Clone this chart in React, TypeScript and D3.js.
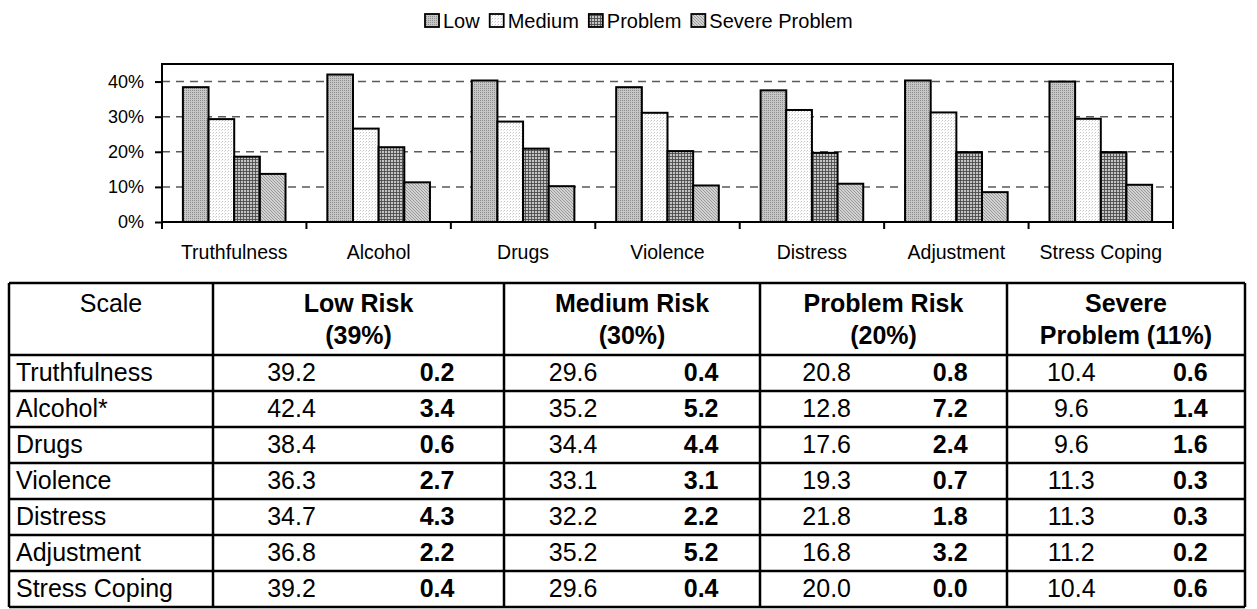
import React, { useRef, useEffect } from 'react';
import * as d3 from 'd3';

// bar chart data (in %)
const categories = ['Truthfulness', 'Alcohol', 'Drugs', 'Violence', 'Distress', 'Adjustment', 'Stress Coping'];
const seriesNames = ['Low', 'Medium', 'Problem', 'Severe Problem'];
const lowBars = [38.4, 42.0, 40.3, 38.4, 37.5, 40.3, 40.0];
const mediumBars = [29.3, 26.6, 28.6, 31.1, 31.9, 31.2, 29.4];
const problemBars = [18.6, 21.3, 20.9, 20.2, 19.7, 19.9, 19.9];
const severeBars = [13.7, 11.3, 10.2, 10.4, 10.9, 8.5, 10.6];
const yTicks = [0, 10, 20, 30, 40];

// table data
const scaleNames = ['Truthfulness', 'Alcohol*', 'Drugs', 'Violence', 'Distress', 'Adjustment', 'Stress Coping'];
const headers = [['Low Risk', '(39%)'], ['Medium Risk', '(30%)'], ['Problem Risk', '(20%)'], ['Severe', 'Problem (11%)']];
const lowVals = [39.2, 42.4, 38.4, 36.3, 34.7, 36.8, 39.2];
const lowDiff = [0.2, 3.4, 0.6, 2.7, 4.3, 2.2, 0.4];
const medVals = [29.6, 35.2, 34.4, 33.1, 32.2, 35.2, 29.6];
const medDiff = [0.4, 5.2, 4.4, 3.1, 2.2, 5.2, 0.4];
const probVals = [20.8, 12.8, 17.6, 19.3, 21.8, 16.8, 20.0];
const probDiff = [0.8, 7.2, 2.4, 0.7, 1.8, 3.2, 0.0];
const sevVals = [10.4, 9.6, 9.6, 11.3, 11.3, 11.2, 10.4];
const sevDiff = [0.6, 1.4, 1.6, 0.3, 0.3, 0.2, 0.6];

const FONT = '"Liberation Sans", Arial, Helvetica, sans-serif';

export default function App() {
  const svgRef = useRef<SVGSVGElement>(null);

  useEffect(() => {
    const svg = d3.select(svgRef.current);
    svg.selectAll('*').remove();
    const width = 1257;
    const height = 609;
    svg.attr('width', width).attr('height', height);

    // fill patterns
    const defs = svg.append('defs');
    const pat = (id: string, size: number, bg: string, px: [number, number, string][]) => {
      const p = defs.append('pattern').attr('id', id).attr('patternUnits', 'userSpaceOnUse')
        .attr('width', size).attr('height', size);
      p.append('rect').attr('width', size).attr('height', size).attr('fill', bg);
      px.forEach(([x, y, c]) => p.append('rect').attr('x', x).attr('y', y).attr('width', 1).attr('height', 1).attr('fill', c));
    };
    pat('p-low', 2, '#c6c6c6', [[0, 0, '#8e8e8e']]);
    pat('p-med', 3, '#ffffff', [[0, 0, '#c4c4c4'], [2, 1, '#e0e0e0']]);
    pat('p-prob', 3, '#c4c4c4', [[0, 0, '#4a4a4a'], [1, 0, '#5a5a5a'], [2, 0, '#5a5a5a'], [0, 1, '#5a5a5a'], [0, 2, '#5a5a5a']]);
    pat('p-sev', 3, '#d2d2d2', [[0, 0, '#9a9a9a'], [1, 1, '#9a9a9a'], [2, 2, '#9a9a9a']]);
    const fills = ['url(#p-low)', 'url(#p-med)', 'url(#p-prob)', 'url(#p-sev)'];
    const series = [lowBars, mediumBars, problemBars, severeBars];

    // ---- chart ----
    const m = { left: 162, right: 1173, top: 64, bottom: 222 };
    const x0 = d3.scaleBand<string>().domain(categories).range([m.left, m.right]).paddingInner(0).paddingOuter(0);
    const x1 = d3.scaleBand<string>().domain(seriesNames).range([0, x0.bandwidth()]).paddingInner(0).paddingOuter(0.815);
    const y = d3.scaleLinear().domain([0, 45]).range([m.bottom, m.top]);

    const g = svg.append('g');

    // dashed gridlines
    g.selectAll('.grid')
      .data(yTicks.filter(t => t > 0))
      .join('line')
      .attr('x1', m.left).attr('x2', m.right)
      .attr('y1', d => y(d)).attr('y2', d => y(d))
      .attr('stroke', '#5a5a5a').attr('stroke-width', 1.5).attr('stroke-dasharray', '8,6');

    // bars
    categories.forEach((c, ci) => {
      g.selectAll(null)
        .data(seriesNames)
        .join('rect')
        .attr('x', s => (x0(c) as number) + (x1(s) as number))
        .attr('y', (s, si) => y(series[si][ci]))
        .attr('width', x1.bandwidth())
        .attr('height', (s, si) => y(0) - y(series[si][ci]))
        .attr('fill', (s, si) => fills[si])
        .attr('stroke', '#000').attr('stroke-width', 2);
    });

    // plot frame
    g.append('rect')
      .attr('x', m.left).attr('y', m.top)
      .attr('width', m.right - m.left).attr('height', m.bottom - m.top)
      .attr('fill', 'none').attr('stroke', '#000').attr('stroke-width', 2);

    // y axis
    const yAxis = g.append('g').attr('transform', `translate(${m.left},0)`)
      .call(d3.axisLeft(y).tickValues(yTicks).tickFormat(d => `${d}%`).tickSize(7).tickPadding(11));
    yAxis.select('.domain').remove();
    yAxis.selectAll('line').attr('stroke', '#000').attr('stroke-width', 2);
    yAxis.selectAll('text').attr('font-family', FONT).attr('font-size', 18).attr('fill', '#000');

    // x axis ticks at the category boundaries
    const bounds = categories.map(c => x0(c) as number).concat([m.right]);
    g.selectAll('.xtick')
      .data(bounds)
      .join('line')
      .attr('x1', d => d).attr('x2', d => d)
      .attr('y1', m.bottom).attr('y2', m.bottom + 7)
      .attr('stroke', '#000').attr('stroke-width', 2);
    g.selectAll('.xlab')
      .data(categories)
      .join('text')
      .attr('x', c => (x0(c) as number) + x0.bandwidth() / 2)
      .attr('y', 259)
      .attr('text-anchor', 'middle')
      .attr('font-family', FONT).attr('font-size', 19.5)
      .text(c => c);

    // legend
    const leg = svg.append('g');
    let lx = 425;
    seriesNames.forEach((s, i) => {
      leg.append('rect').attr('x', lx).attr('y', 14).attr('width', 14).attr('height', 13)
        .attr('fill', fills[i]).attr('stroke', '#000').attr('stroke-width', 1.8);
      const t = leg.append('text').attr('x', lx + 18).attr('y', 28)
        .attr('font-family', FONT).attr('font-size', 20).text(s);
      const w = (t.node() as SVGTextElement).getComputedTextLength();
      lx += 18 + w + 10;
    });

    // ---- table ----
    const cols = [9, 213, 504, 760, 1007, 1245];
    const tTop = 283;
    const headBottom = 355;
    const tBottom = 607;
    const rowY = d3.scaleBand<string>().domain(scaleNames).range([headBottom, tBottom]);
    const tb = svg.append('g').attr('font-family', FONT).attr('font-size', 25);

    // header
    tb.append('text').attr('x', (cols[0] + cols[1]) / 2).attr('y', 312)
      .attr('text-anchor', 'middle').text('Scale');
    headers.forEach((h, i) => {
      const cx = (cols[i + 1] + cols[i + 2]) / 2;
      h.forEach((line, li) => {
        tb.append('text').attr('x', cx).attr('y', 312 + li * 32)
          .attr('text-anchor', 'middle').attr('font-weight', 'bold').text(line);
      });
    });

    // rows
    const valueCols = [[lowVals, lowDiff], [medVals, medDiff], [probVals, probDiff], [sevVals, sevDiff]];
    scaleNames.forEach((name, ri) => {
      const by = (rowY(name) as number) + 26;
      tb.append('text').attr('x', cols[0] + 7).attr('y', by).text(name);
      valueCols.forEach(([vals, diffs], ci) => {
        const l = cols[ci + 1];
        const w = cols[ci + 2] - l;
        tb.append('text').attr('x', l + 0.27 * w).attr('y', by)
          .attr('text-anchor', 'middle').text(vals[ri].toFixed(1));
        tb.append('text').attr('x', l + 0.77 * w).attr('y', by)
          .attr('text-anchor', 'middle').attr('font-weight', 'bold').text(diffs[ri].toFixed(1));
      });
    });

    // grid lines of the table
    const lines = tb.append('g').attr('stroke', '#000').attr('stroke-width', 2.5);
    const hY = [tTop, headBottom].concat(scaleNames.map(n => (rowY(n) as number) + rowY.bandwidth()));
    hY.forEach(yy => lines.append('line').attr('x1', cols[0]).attr('x2', cols[5]).attr('y1', yy).attr('y2', yy));
    cols.forEach(xx => lines.append('line').attr('x1', xx).attr('x2', xx).attr('y1', tTop).attr('y2', tBottom));
  }, []);

  return (
    <svg ref={svgRef} style={{ position: 'absolute', left: 0, top: 0, background: '#fff' }}></svg>
  );
}
